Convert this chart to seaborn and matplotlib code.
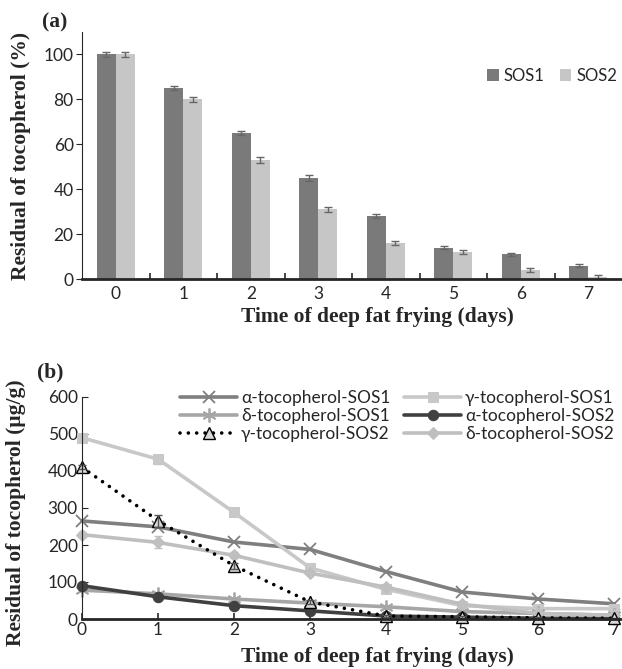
import numpy as np
import pandas as pd
import matplotlib
matplotlib.use('Agg')
import matplotlib.pyplot as plt
import seaborn as sns

sns.set_style('ticks')
plt.rcParams['font.family'] = ['Lato', 'DejaVu Sans']

# ---- data, panel (a) ----
days_a = [0, 1, 2, 3, 4, 5, 6, 7]
sos1_pct = [100, 85, 65, 45, 28, 14, 11, 6]
sos2_pct = [100, 80, 53, 31, 16, 12, 4, 1]
sos1_err = [1.2, 1.0, 1.0, 1.2, 1.0, 0.8, 0.8, 0.8]
sos2_err = [1.2, 1.0, 1.2, 1.2, 1.0, 0.8, 1.0, 1.0]

# ---- data, panel (b) ----
days_b = [0, 1, 2, 3, 4, 5, 6, 7]
a_sos1 = [265, 249, 208, 188, 128, 73, 54, 41]
g_sos1 = [490, 432, 288, 138, 80, 36, 28, 28]
d_sos1 = [78, 68, 54, 43, 33, 20, 15, 10]
a_sos2 = [90, 60, 36, 22, 8, 5, 2, 1]
g_sos2 = [410, 266, 144, 46, 8, 6, 3, 2]
d_sos2 = [228, 207, 172, 124, 86, 40, 15, 10]
g_sos1_err = [8, 12, 10, 8, 6, 4, 4, 4]
d_sos2_err = [6, 16, 8, 6, 5, 4, 3, 3]
g_sos2_err = [5, 16, 8, 5, 3, 3, 2, 2]

serif_bold = dict(family='Liberation Serif', weight='bold', size=15.5)

fig = plt.figure(figsize=(6.22, 6.69), dpi=100)
fig.patch.set_facecolor('white')

# ================= panel (a) =================
ax1 = fig.add_axes([82/622, 1-279/669, 1-82/622, 247/669])
df_a = pd.DataFrame({
    'day': days_a * 2,
    'value': sos1_pct + sos2_pct,
    'series': ['SOS1'] * len(days_a) + ['SOS2'] * len(days_a),
})
sns.barplot(data=df_a, x='day', y='value', hue='series',
            palette=['#7a7a7a', '#c6c6c6'], width=0.56, gap=0,
            errorbar=None, saturation=1, ax=ax1, edgecolor='none')
for cont, errs in zip(ax1.containers, [sos1_err, sos2_err]):
    xs = [b.get_x() + b.get_width() / 2 for b in cont]
    ys = [b.get_height() for b in cont]
    ax1.errorbar(xs, ys, yerr=errs, fmt='none', ecolor='#666666',
                 elinewidth=1, capsize=3, capthick=1)

ax1.set_xlim(-0.5, 7.5)
ax1.set_ylim(0, 110)
ax1.set_yticks([0, 20, 40, 60, 80, 100])
ax1.set_xticks(range(8))
ax1.set_xticks(np.arange(0.5, 7.5, 1), minor=True)
ax1.tick_params(axis='x', which='major', length=0, labelsize=12.5, pad=5)
ax1.tick_params(axis='x', which='minor', length=4, direction='in', width=1.2)
ax1.tick_params(axis='y', length=4, width=0.8, labelsize=12.5, pad=2)
sns.despine(ax=ax1)
ax1.spines['left'].set_linewidth(0.8)
ax1.spines['bottom'].set_linewidth(2)
ax1.set_xlabel('Time of deep fat frying (days)', fontdict=serif_bold)
ax1.set_ylabel('Residual of tocopherol (%)', fontdict=serif_bold)
ax1.xaxis.set_label_coords(0.548, -0.112)
ax1.yaxis.set_label_coords(-0.094, 0.5)
h, l = ax1.get_legend_handles_labels()
ax1.legend(h, l, loc='center left', bbox_to_anchor=(487/622, 1-76/669),
           bbox_transform=fig.transFigure, ncol=2, frameon=False,
           handlelength=0.7, handleheight=0.7, handletextpad=0.3,
           columnspacing=0.9, fontsize=12, borderpad=0, borderaxespad=0)
fig.text(55/622, 1-22/669, '(a)', fontdict=serif_bold, ha='center', va='center')

# ================= panel (b) =================
ax2 = fig.add_axes([82/622, 1-619/669, 1-82/622, 222/669])

styles = [
    ('α-tocopherol-SOS1', a_sos1, None, dict(color='#7f7f7f', marker='x', markersize=9,
                                             markeredgewidth=1.3, ls='-')),
    ('γ-tocopherol-SOS1', g_sos1, g_sos1_err, dict(color='#c8c8c8', marker='s', markersize=7.5,
                                                   ls='-')),
    ('δ-tocopherol-SOS1', d_sos1, None, dict(color='#a6a6a6', marker=(6, 2, 0), markersize=10,
                                             markeredgewidth=1.3, ls='-')),
    ('α-tocopherol-SOS2', a_sos2, None, dict(color='#404040', marker='o', markersize=7.5,
                                             ls='-')),
    ('δ-tocopherol-SOS2', d_sos2, d_sos2_err, dict(color='#bfbfbf', marker='D', markersize=6.5,
                                                   ls='-')),
    ('γ-tocopherol-SOS2', g_sos2, g_sos2_err, dict(color='black', marker='^', markersize=8.5,
                                                   markerfacecolor='#d9d9d9',
                                                   markeredgecolor='black', markeredgewidth=1,
                                                   ls=(0, (0.01, 2.3)), dash_capstyle='round')),
]
for name, vals, errs, kw in styles:
    lw = 2.6
    kw = dict(kw)
    if 'markeredgecolor' not in kw:
        kw['markeredgecolor'] = kw['color']
    sns.lineplot(x=days_b, y=vals, ax=ax2, label=name, lw=lw, clip_on=False, **kw)
    if errs is not None:
        ax2.errorbar(days_b, vals, yerr=errs, fmt='none', ecolor=kw['color'] if kw['color'] != 'black' else '#555555',
                     elinewidth=1, capsize=3, clip_on=False)

ax2.set_xlim(0, 7.1)
ax2.set_ylim(0, 600)
ax2.set_xticks(range(8))
ax2.set_yticks(range(0, 601, 100))
ax2.tick_params(axis='x', length=4, direction='in', width=1.2, labelsize=12.5, pad=2)
ax2.tick_params(axis='y', length=4, direction='in', width=0.8, labelsize=12.5, pad=3)
sns.despine(ax=ax2)
ax2.spines['left'].set_linewidth(0.8)
ax2.spines['bottom'].set_linewidth(2)
ax2.set_xlabel('Time of deep fat frying (days)', fontdict=serif_bold)
ax2.set_ylabel('Residual of tocopherol (μg/g)', fontdict=serif_bold)
ax2.xaxis.set_label_coords(0.548, -0.125)
ax2.yaxis.set_label_coords(-0.104, 0.48)

h, l = ax2.get_legend_handles_labels()
order = ['α-tocopherol-SOS1', 'δ-tocopherol-SOS1', 'γ-tocopherol-SOS2',
         'γ-tocopherol-SOS1', 'α-tocopherol-SOS2', 'δ-tocopherol-SOS2']
hd = dict(zip(l, h))
ax2.legend([hd[k] for k in order], order, loc='upper left',
           bbox_to_anchor=(180/622, 1-390/669), bbox_transform=fig.transFigure,
           ncol=2, frameon=False, handlelength=3.3, handletextpad=0.2,
           columnspacing=0.8, labelspacing=0.12, fontsize=12.5,
           borderpad=0, borderaxespad=0)
fig.text(50/622, 1-372/669, '(b)', fontdict=serif_bold, ha='center', va='center')

fig.savefig('out.png', dpi=100)
